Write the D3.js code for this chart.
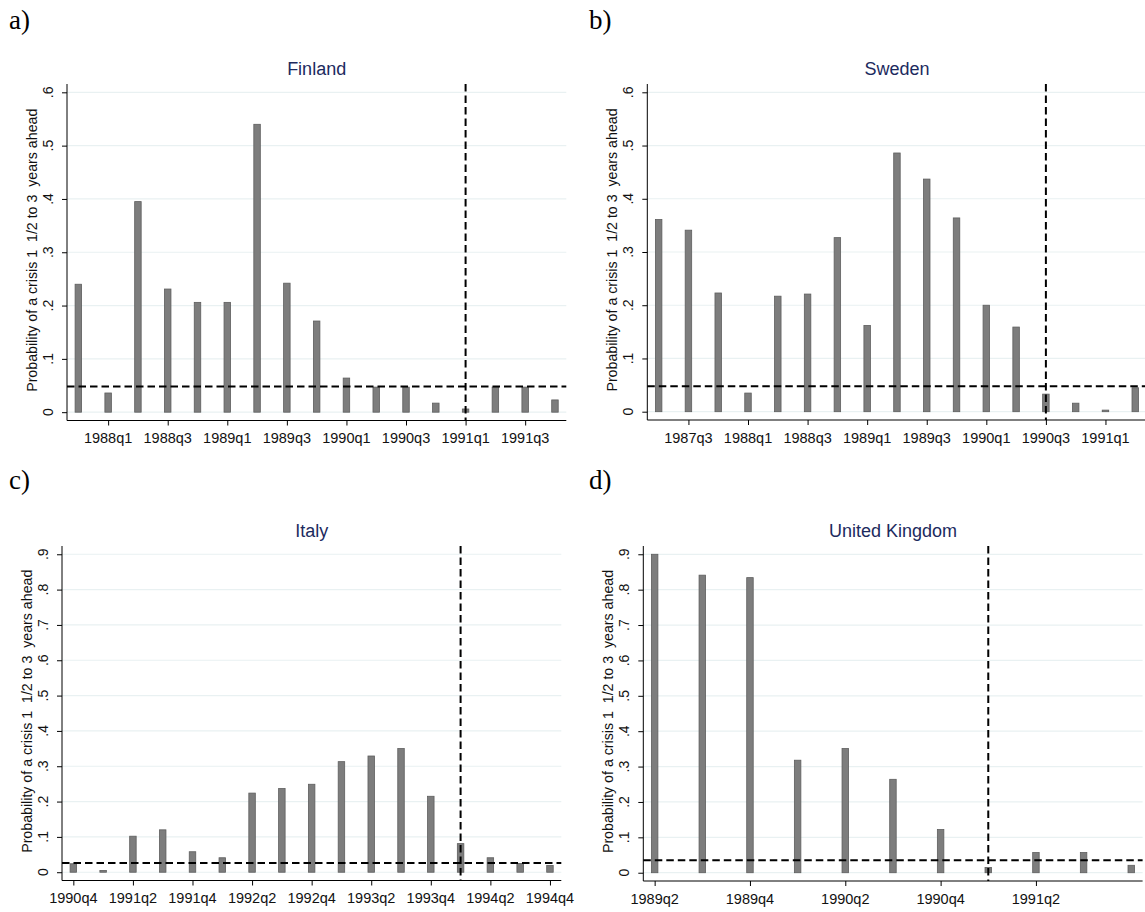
<!DOCTYPE html>
<html>
<head>
<meta charset="utf-8">
<script src="https://cdn.jsdelivr.net/npm/d3@7"></script>
<style>
    body { margin: 0; background: #fff; }
    text { font-family: "Liberation Sans", Arial, sans-serif; }
</style>
</head>
<body>
<svg id="chart" width="1145" height="912"></svg>
<script>
// quarters, predicted probabilities, threshold and crisis date per country
const finlandQuarters = ["1987q4", "1988q1", "1988q2", "1988q3", "1988q4", "1989q1", "1989q2", "1989q3", "1989q4",
    "1990q1", "1990q2", "1990q3", "1990q4", "1991q1", "1991q2", "1991q3", "1991q4"]
const finlandValues = [0.240, 0.036, 0.395, 0.231, 0.206, 0.206, 0.540, 0.242, 0.171,
    0.064, 0.047, 0.047, 0.017, 0.006, 0.047, 0.047, 0.023]
const finlandTicks = ["1988q1", "1988q3", "1989q1", "1989q3", "1990q1", "1990q3", "1991q1", "1991q3"]
const finlandThreshold = 0.048
const finlandCrisis = "1991q1"

const swedenQuarters = ["1987q2", "1987q3", "1987q4", "1988q1", "1988q2", "1988q3", "1988q4", "1989q1", "1989q2",
    "1989q3", "1989q4", "1990q1", "1990q2", "1990q3", "1990q4", "1991q1", "1991q2"]
const swedenValues = [0.361, 0.341, 0.223, 0.035, 0.217, 0.221, 0.327, 0.162, 0.486,
    0.437, 0.364, 0.200, 0.159, 0.033, 0.016, 0.003, 0.045]
const swedenTicks = ["1987q3", "1988q1", "1988q3", "1989q1", "1989q3", "1990q1", "1990q3", "1991q1"]
const swedenThreshold = 0.048
const swedenCrisis = "1990q3"

const italyQuarters = ["1990q4", "1991q1", "1991q2", "1991q3", "1991q4", "1992q1", "1992q2", "1992q3", "1992q4",
    "1993q1", "1993q2", "1993q3", "1993q4", "1994q1", "1994q2", "1994q3", "1994q4"]
const italyValues = [0.024, 0.005, 0.102, 0.120, 0.058, 0.041, 0.224, 0.237, 0.249,
    0.313, 0.329, 0.350, 0.215, 0.081, 0.041, 0.025, 0.019]
const italyTicks = ["1990q4", "1991q2", "1991q4", "1992q2", "1992q4", "1993q2", "1993q4", "1994q2", "1994q4"]
const italyThreshold = 0.026
const italyCrisis = "1994q1"

const ukQuarters = ["1989q2", "1989q3", "1989q4", "1990q1", "1990q2", "1990q3", "1990q4", "1991q1", "1991q2",
    "1991q3", "1991q4"]
const ukValues = [0.900, 0.841, 0.834, 0.318, 0.351, 0.264, 0.122, 0.015, 0.057, 0.057, 0.021]
const ukTicks = ["1989q2", "1989q4", "1990q2", "1990q4", "1991q2"]
const ukThreshold = 0.035
const ukCrisis = "1991q1"

const topYTicks = [0, 0.1, 0.2, 0.3, 0.4, 0.5, 0.6]
const bottomYTicks = [0, 0.1, 0.2, 0.3, 0.4, 0.5, 0.6, 0.7, 0.8, 0.9]

const yTitle = "Probability of a crisis 1  1/2 to 3  years ahead"

// layout of the four plot regions
let panels = [
    {letter: "a)", title: "Finland", quarters: finlandQuarters, values: finlandValues, ticks: finlandTicks,
        threshold: finlandThreshold, crisis: finlandCrisis, yTicks: topYTicks,
        left: 67, top: 84, bottom: 420.5, letterX: 9, letterY: 29},
    {letter: "b)", title: "Sweden", quarters: swedenQuarters, values: swedenValues, ticks: swedenTicks,
        threshold: swedenThreshold, crisis: swedenCrisis, yTicks: topYTicks,
        left: 647.3, top: 84, bottom: 420, letterX: 589, letterY: 29},
    {letter: "c)", title: "Italy", quarters: italyQuarters, values: italyValues, ticks: italyTicks,
        threshold: italyThreshold, crisis: italyCrisis, yTicks: bottomYTicks,
        left: 62, top: 546, bottom: 880.5, letterX: 9, letterY: 489},
    {letter: "d)", title: "United Kingdom", quarters: ukQuarters, values: ukValues, ticks: ukTicks,
        threshold: ukThreshold, crisis: ukCrisis, yTicks: bottomYTicks,
        left: 643.3, top: 546, bottom: 881, letterX: 589, letterY: 489}
]

const plotWidth = 499.3
const barWidth = 6.5

function qIndex(s) {
    let parts = s.split("q")
    return parseInt(parts[0]) * 4 + parseInt(parts[1]) - 1
}

function yLabel(v) {
    if (v === 0) return "0"
    return d3.format(".1f")(v).replace(/^0/, "")
}

let svg = d3.select("#chart")
svg.append("rect").attr("width", 1145).attr("height", 912).attr("fill", "#fff")

panels.forEach(p => {
    let g = svg.append("g")
    let right = p.left + plotWidth

    let first = qIndex(p.quarters[0])
    let last = qIndex(p.quarters[p.quarters.length - 1])
    let xPad = 0.0238 * (last - first)
    let xScale = d3.scaleLinear()
        .domain([first - xPad, last + xPad])
        .range([p.left, right])

    let yMax = d3.max(p.yTicks)
    let yPad = 0.026 * yMax
    let yScale = d3.scaleLinear()
        .domain([-yPad, yMax + yPad])
        .range([p.bottom, p.top])

    // letter and title
    svg.append("text")
        .attr("x", p.letterX)
        .attr("y", p.letterY)
        .style("font-family", "'Liberation Serif', 'DejaVu Serif', serif")
        .style("font-size", "27px")
        .text(p.letter)

    g.append("text")
        .attr("x", (p.left + right) / 2)
        .attr("y", p.top - 9.5)
        .attr("text-anchor", "middle")
        .style("font-size", "18px")
        .attr("fill", "#1c2a5e")
        .text(p.title)

    // gridlines
    g.selectAll(".grid")
        .data(p.yTicks)
        .join("line")
        .attr("x1", p.left)
        .attr("x2", right)
        .attr("y1", d => yScale(d))
        .attr("y2", d => yScale(d))
        .attr("stroke", "#e9f1f2")
        .attr("stroke-width", 1.2)

    // bars
    g.selectAll(".bar")
        .data(p.values)
        .join("rect")
        .attr("x", (d, i) => xScale(qIndex(p.quarters[i])) - barWidth / 2)
        .attr("y", d => yScale(d))
        .attr("width", barWidth)
        .attr("height", d => yScale(0) - yScale(d))
        .attr("fill", "#7d7d7d")
        .attr("stroke", "#5e5e5e")
        .attr("stroke-width", 0.8)

    // threshold and crisis lines
    g.append("line")
        .attr("x1", p.left)
        .attr("x2", right)
        .attr("y1", yScale(p.threshold))
        .attr("y2", yScale(p.threshold))
        .attr("stroke", "#000")
        .attr("stroke-width", 2)
        .attr("stroke-dasharray", "7.5,4")

    g.append("line")
        .attr("x1", xScale(qIndex(p.crisis)))
        .attr("x2", xScale(qIndex(p.crisis)))
        .attr("y1", p.top)
        .attr("y2", p.bottom)
        .attr("stroke", "#000")
        .attr("stroke-width", 2)
        .attr("stroke-dasharray", "7.5,4")

    // y axis
    let yAxis = g.append("g")
        .attr("transform", `translate(${p.left},0)`)
        .call(d3.axisLeft(yScale).tickValues(p.yTicks).tickSize(5).tickFormat(""))
    yAxis.select(".domain").attr("d", `M0,${p.top}V${p.bottom}`).attr("stroke", "#000")
    yAxis.selectAll(".tick line").attr("stroke", "#000")

    g.selectAll(".ylab")
        .data(p.yTicks)
        .join("text")
        .attr("transform", d => `translate(${p.left - 14},${yScale(d)}) rotate(-90)`)
        .attr("text-anchor", "middle")
        .style("font-size", "14px")
        .attr("fill", "#111")
        .text(d => yLabel(d))

    // x axis
    let xAxis = g.append("g")
        .attr("transform", `translate(0,${p.bottom})`)
        .call(d3.axisBottom(xScale).tickValues(p.ticks.map(qIndex)).tickSize(5).tickFormat(""))
    xAxis.select(".domain").attr("d", `M${p.left},0H${right}`).attr("stroke", "#000")
    xAxis.selectAll(".tick line").attr("stroke", "#000")

    g.selectAll(".xlab")
        .data(p.ticks)
        .join("text")
        .attr("x", d => xScale(qIndex(d)))
        .attr("y", p.bottom + 22.5)
        .attr("text-anchor", "middle")
        .style("font-size", "14.5px")
        .attr("fill", "#111")
        .text(d => d)

    // y axis title
    g.append("text")
        .attr("transform", `translate(${p.left - 30},${(p.top + p.bottom) / 2 - 2}) rotate(-90)`)
        .attr("text-anchor", "middle")
        .style("font-size", "14.2px")
        .style("white-space", "pre")
        .attr("fill", "#111")
        .text(yTitle)
})
</script>
</body>
</html>
